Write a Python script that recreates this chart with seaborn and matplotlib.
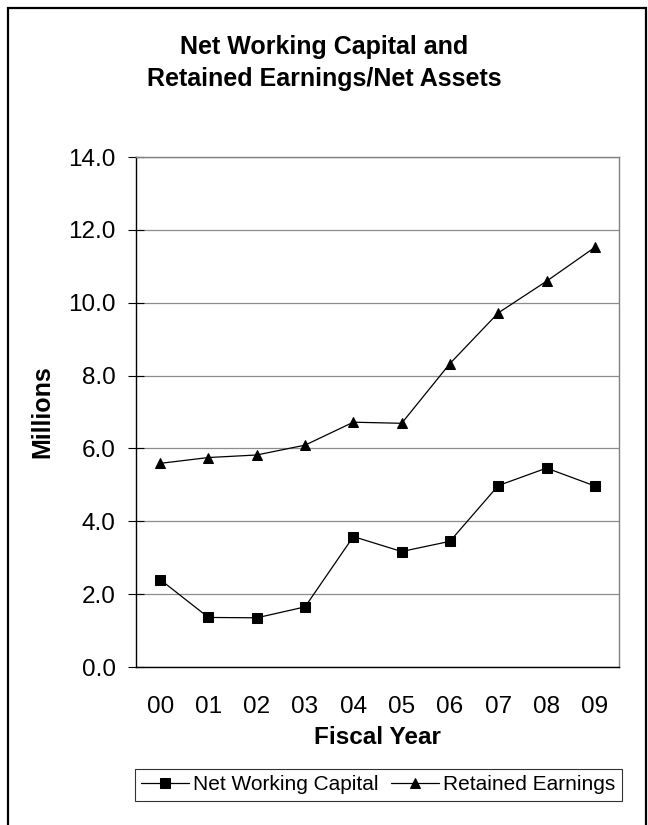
import matplotlib
matplotlib.use("Agg")
import matplotlib.pyplot as plt
import seaborn as sns
import pandas as pd
from matplotlib.patches import Rectangle
from matplotlib.ticker import FixedLocator

# Fiscal years and balances (millions)
years = ["00", "01", "02", "03", "04", "05", "06", "07", "08", "09"]
net_working_capital = [2.40, 1.36, 1.35, 1.65, 3.58, 3.17, 3.45, 4.98, 5.46, 4.97]
retained_earnings = [5.59, 5.75, 5.82, 6.09, 6.72, 6.69, 8.33, 9.72, 10.59, 11.52]
series_names = ["Net Working Capital", "Retained Earnings"]
y_ticks = [0.0, 2.0, 4.0, 6.0, 8.0, 10.0, 12.0, 14.0]

sns.set_theme(style="white")
plt.rcParams["font.family"] = ["Liberation Sans", "DejaVu Sans"]
for key in ["text.color", "axes.labelcolor", "xtick.color", "ytick.color"]:
    plt.rcParams[key] = "black"

df = pd.DataFrame({
    "year": years * 2,
    "value": net_working_capital + retained_earnings,
    "series": [series_names[0]] * len(years) + [series_names[1]] * len(years),
})

fig = plt.figure(figsize=(6.48, 8.25), dpi=100)
ax = fig.add_axes([136 / 648, 1 - 667 / 825, (619 - 136) / 648, (667 - 157) / 825])

sns.lineplot(
    data=df, x="year", y="value", hue="series", style="series",
    markers={series_names[0]: "s", series_names[1]: "^"},
    dashes=False, palette={series_names[0]: "black", series_names[1]: "black"},
    markersize=7.5, linewidth=0.9, markeredgecolor="black", ax=ax, legend=True,
)

ax.set_xlim(-0.5, len(years) - 0.5)
ax.set_ylim(0, 14)
ax.set_yticks(y_ticks)
ax.set_yticklabels([f"{v:.1f}" for v in y_ticks])
ax.set_xticks(range(len(years)))
ax.set_xticklabels(years)
ax.xaxis.set_minor_locator(FixedLocator([i - 0.5 for i in range(len(years) + 1)]))

ax.yaxis.grid(True, color="#8c8c8c", linewidth=0.9)
ax.set_axisbelow(True)

ax.tick_params(axis="x", which="major", length=0, labelsize=17.5, pad=21, colors="black")
ax.tick_params(axis="x", which="minor", length=11, width=0.8, direction="inout", color="black")
ax.tick_params(axis="y", which="major", length=11, width=0.8, direction="inout",
               labelsize=17.5, pad=9, colors="black", left=True)

for side in ["left", "bottom"]:
    ax.spines[side].set_color("black")
    ax.spines[side].set_linewidth(1.0)
for side in ["top", "right"]:
    ax.spines[side].set_visible(True)
    ax.spines[side].set_color("#808080")
    ax.spines[side].set_linewidth(1.0)

ax.set_xlabel("Fiscal Year", fontsize=17.5, fontweight="bold", labelpad=6)
ax.set_ylabel("Millions", fontsize=18, fontweight="bold")
ax.yaxis.set_label_coords(-0.17, 0.5)

fig.text(0.5, 1 - 63 / 825, "Net Working Capital and\nRetained Earnings/Net Assets",
         ha="center", va="center", fontsize=18, fontweight="bold", linespacing=1.4)

handles, labels = ax.get_legend_handles_labels()
ax.legend_.remove()
leg = fig.legend(handles, labels, loc="center", bbox_to_anchor=(378.5 / 648, 1 - 785 / 825),
                 ncol=2, fontsize=15, frameon=True, fancybox=False, handlelength=2.3,
                 columnspacing=0.6, handletextpad=0.2, borderpad=0.3, edgecolor="black")
leg.get_frame().set_linewidth(0.8)
for h in leg.legend_handles:
    h.set_markersize(6.5)

fig.patches.append(Rectangle((8 / 648, -0.05), (646 - 8) / 648, 0.05 + 1 - 8 / 825,
                             transform=fig.transFigure, fill=False, edgecolor="black",
                             linewidth=1.6))

fig.savefig("out.png", dpi=100)
